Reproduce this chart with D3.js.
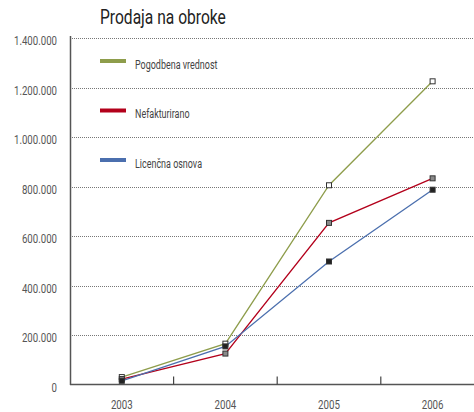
<!DOCTYPE html>
<html>
<head>
<meta charset="utf-8">
<script src="https://cdn.jsdelivr.net/npm/d3@7"></script>
<style>
  body { margin: 0; background: #fff; }
  svg { display: block; }
  text { font-family: Roboto, "Liberation Sans", sans-serif; }
</style>
</head>
<body>
<svg></svg>
<script>
const width = 474;
const height = 412;

const years = ['2003', '2004', '2005', '2006'];
const yTicks = [0, 200000, 400000, 600000, 800000, 1000000, 1200000, 1400000];

const seriesNames = ['Pogodbena vrednost', 'Nefakturirano', 'Licenčna osnova'];
const pogodbena = [30000, 165000, 805000, 1225000];
const nefakturirano = [22000, 125000, 653000, 833000];
const licencna = [15000, 154000, 497000, 787000];

const colors = ['#8e9d4b', '#b3001b', '#4b6fae'];
const markerFill = ['#ffffff', '#8a8a8a', '#222222'];

const svg = d3.select('svg')
  .attr('width', width)
  .attr('height', height);

const x = d3.scaleBand()
  .domain(years)
  .range([70, 484.4]);

const y = d3.scaleLinear()
  .domain([0, 1400000])
  .range([384.5, 38]);

const fmt = v => v === 0 ? '0' : d3.format(',')(v).replace(/,/g, '.');

// the original font is a narrow one, so squeeze the text horizontally
const squeeze = (tx, ty, s) => `translate(${tx},${ty}) scale(${s},1)`;

// title
svg.append('text')
  .attr('transform', squeeze(100, 24, 0.8))
  .attr('font-size', 19.5)
  .attr('fill', '#222')
  .text('Prodaja na obroke');

// grid
svg.append('g')
  .selectAll('line')
  .data(yTicks.filter(d => d > 0))
  .enter()
  .append('line')
  .attr('x1', 72)
  .attr('x2', width)
  .attr('y1', d => Math.round(y(d)) + 0.5)
  .attr('y2', d => Math.round(y(d)) + 0.5)
  .attr('stroke', '#777')
  .attr('stroke-width', 1)
  .attr('stroke-dasharray', '1,1');

// y labels
svg.append('g')
  .selectAll('text')
  .data(yTicks)
  .enter()
  .append('text')
  .attr('transform', d => squeeze(57, y(d) + 7, 0.76))
  .attr('text-anchor', 'end')
  .attr('font-size', 12.7)
  .attr('fill', '#555')
  .text(fmt);

// y axis line
svg.append('line')
  .attr('x1', 70.5).attr('x2', 70.5)
  .attr('y1', 36).attr('y2', 385)
  .attr('stroke', '#555')
  .attr('stroke-width', 1.5);

// x axis
const xAxis = svg.append('g')
  .attr('transform', `translate(0,${y(0)})`)
  .call(d3.axisBottom(x).tickSize(0));
xAxis.select('.domain').remove();
xAxis.selectAll('text')
  .attr('y', 0)
  .attr('dy', 0)
  .attr('transform', squeeze(0, 24.3, 0.72))
  .attr('font-size', 13.5)
  .attr('fill', '#555')
  .style('font-family', 'Roboto, "Liberation Sans", sans-serif');

svg.append('line')
  .attr('x1', 70).attr('x2', width)
  .attr('y1', y(0)).attr('y2', y(0))
  .attr('stroke', '#555')
  .attr('stroke-width', 1.5);

svg.append('g')
  .selectAll('line')
  .data(years.slice(1))
  .enter()
  .append('line')
  .attr('x1', d => x(d))
  .attr('x2', d => x(d))
  .attr('y1', y(0) - 8)
  .attr('y2', y(0))
  .attr('stroke', '#444')
  .attr('stroke-width', 1.2);

// series
const series = [pogodbena, nefakturirano, licencna];
const line = d3.line()
  .x((d, i) => x(years[i]) + x.bandwidth() / 2)
  .y(d => y(d));

series.forEach((vals, s) => {
  svg.append('path')
    .datum(vals)
    .attr('d', line)
    .attr('fill', 'none')
    .attr('stroke', colors[s])
    .attr('stroke-width', 1.3);
});

series.forEach((vals, s) => {
  svg.append('g')
    .selectAll('rect')
    .data(vals)
    .enter()
    .append('rect')
    .attr('x', (d, i) => x(years[i]) + x.bandwidth() / 2 - 2.5)
    .attr('y', d => y(d) - 2.5)
    .attr('width', 5)
    .attr('height', 5)
    .attr('fill', markerFill[s])
    .attr('stroke', '#333')
    .attr('stroke-width', 1);
});

// legend
const legend = svg.append('g')
  .selectAll('g')
  .data(seriesNames)
  .enter()
  .append('g')
  .attr('transform', (d, i) => `translate(100,${61 + i * 49.5})`);

legend.append('line')
  .attr('x1', 0).attr('x2', 26)
  .attr('y1', 0).attr('y2', 0)
  .attr('stroke', (d, i) => colors[i])
  .attr('stroke-width', 4);

legend.append('text')
  .attr('transform', squeeze(35, 7.5, 0.69))
  .attr('font-size', 13)
  .attr('fill', '#444')
  .text(d => d);
</script>
</body>
</html>
